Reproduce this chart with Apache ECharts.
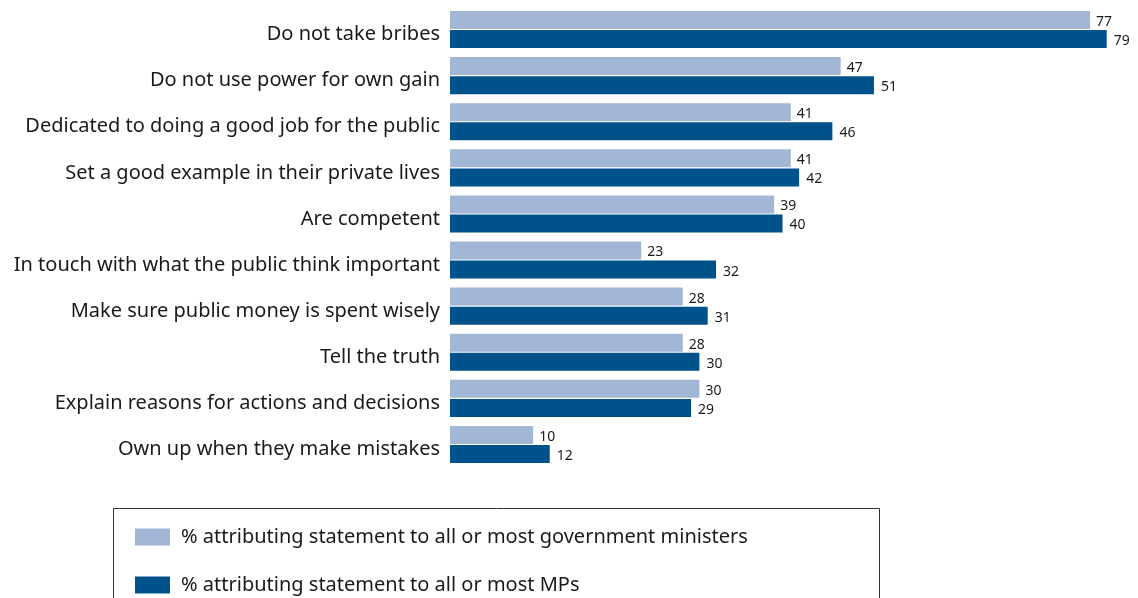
<!DOCTYPE html>
<html>
<head>
<meta charset="utf-8">
<script src="https://cdn.jsdelivr.net/npm/echarts@6/dist/echarts.min.js"></script>
<style>html,body{margin:0;padding:0;background:#fff}#c{width:1138px;height:598px}</style>
</head>
<body>
<div id="c"></div>
<script>
const categories = [
  "Do not take bribes",
  "Do not use power for own gain",
  "Dedicated to doing a good job for the public",
  "Set a good example in their private lives",
  "Are competent",
  "In touch with what the public think important",
  "Make sure public money is spent wisely",
  "Tell the truth",
  "Explain reasons for actions and decisions",
  "Own up when they make mistakes"
];
const ministers = [77, 47, 41, 41, 39, 23, 28, 28, 30, 10];
const mps = [79, 51, 46, 42, 40, 32, 31, 30, 29, 12];
const seriesNames = [
  "% attributing statement to all or most government ministers",
  "% attributing statement to all or most MPs"
];

const FONT = "Noto Sans";
const legendText = { color: '#1a1a1a', fontSize: 20, fontFamily: FONT, lineHeight: 17, padding: [0, 0, 0, 6] };
const chart = echarts.init(document.getElementById('c'));
chart.setOption({
  animation: false,
  textStyle: { fontFamily: FONT },
  grid: { left: 450, right: 23, top: 6.5, bottom: 598 - 467.5 },
  xAxis: { type: 'value', min: 0, max: 80, show: false },
  yAxis: {
    type: 'category', data: categories, inverse: true,
    axisLine: { show: false }, axisTick: { show: false },
    axisLabel: {
      margin: 10,
      formatter: v => '{a|' + v + '}',
      rich: { a: { color: '#1a1a1a', fontSize: 20, fontFamily: FONT, lineHeight: 20, padding: [10, 0, 0, 0] } }
    }
  },
  legend: [
    {
      orient: 'vertical', left: 135, top: 527, padding: 0,
      itemWidth: 35, itemHeight: 17, icon: 'rect',
      textStyle: legendText, data: [seriesNames[0]]
    },
    {
      orient: 'vertical', left: 135, top: 575, padding: 0,
      itemWidth: 35, itemHeight: 17, icon: 'rect',
      textStyle: legendText, data: [seriesNames[1]]
    }
  ],
  graphic: [{
    type: 'rect', shape: { x: 113.5, y: 508.5, width: 766, height: 130 },
    style: { fill: 'none', stroke: '#333', lineWidth: 1 }
  }],
  series: [
    {
      name: seriesNames[0], type: 'bar', data: ministers,
      barWidth: 18, barGap: '6%',
      itemStyle: { color: '#a2b6d5' },
      label: { show: true, position: 'right', distance: 6, color: '#1a1a1a', fontSize: 14, offset: [0, 2] }
    },
    {
      name: seriesNames[1], type: 'bar', data: mps,
      barWidth: 18,
      itemStyle: { color: '#00538a' },
      label: { show: true, position: 'right', distance: 7, color: '#1a1a1a', fontSize: 14, offset: [0, 2] }
    }
  ]
});
</script>
</body>
</html>
